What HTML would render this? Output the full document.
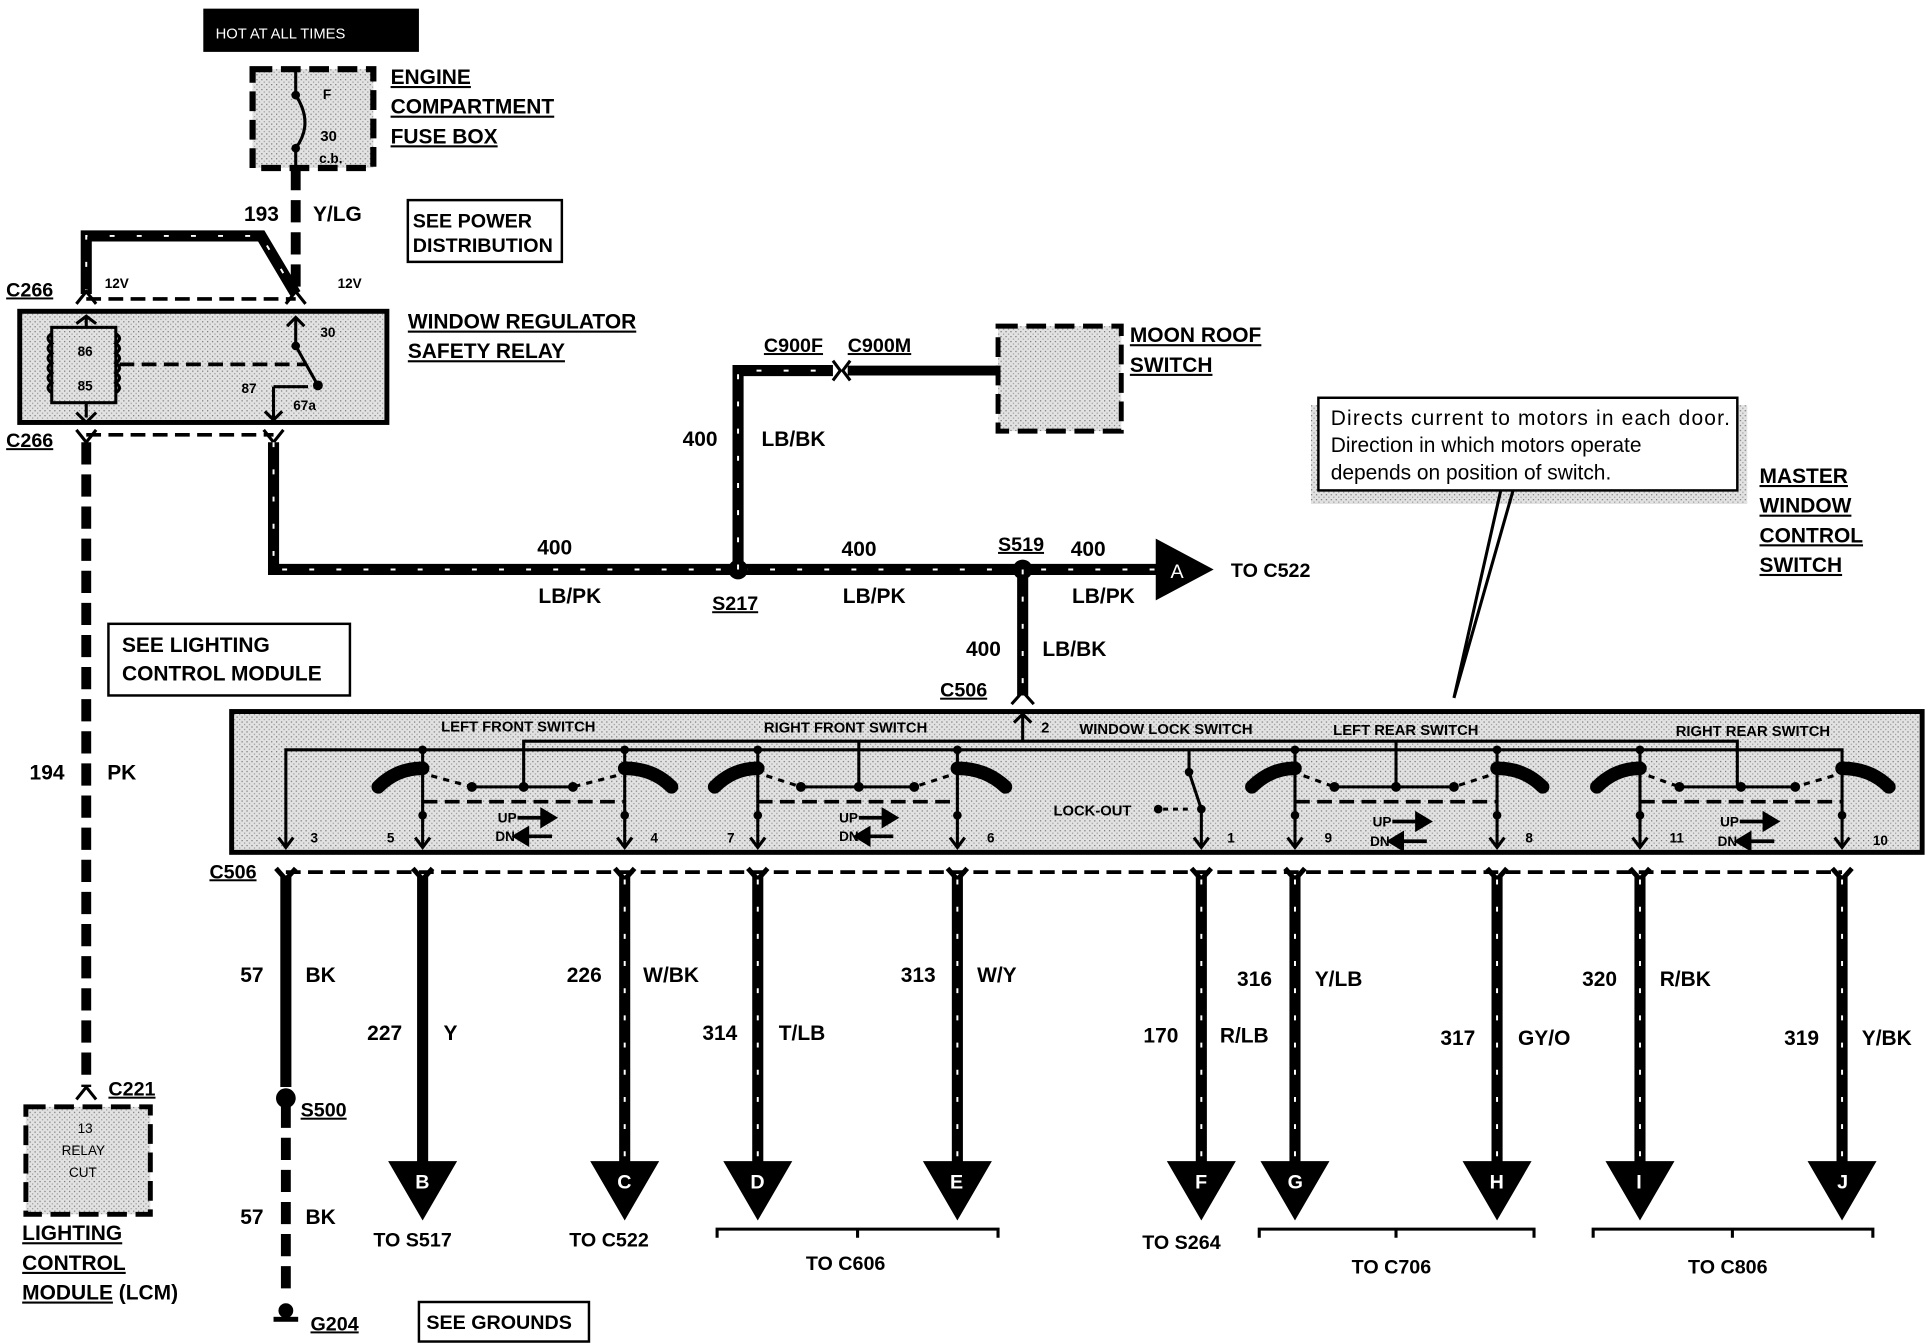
<!DOCTYPE html>
<html><head><meta charset="utf-8"><style>
html,body{margin:0;padding:0;background:#fff}
svg{display:block}
text{font-family:"Liberation Sans",sans-serif;font-weight:bold;fill:#000}
.u{text-decoration:underline}
.w{fill:none;stroke:#000;stroke-width:9}
.wd{fill:none;stroke:#fff;stroke-width:1.6;stroke-dasharray:4 18}
.dw{fill:none;stroke:#000;stroke-width:8;stroke-dasharray:18 8}
.th{fill:none;stroke:#000;stroke-width:2.5}
.bl{fill:none;stroke:#000;stroke-width:11;stroke-linecap:round}
.dl{fill:none;stroke:#000;stroke-width:3;stroke-dasharray:12 6}
</style></head><body>
<svg width="1932" height="1344" viewBox="0 0 1568 1088" preserveAspectRatio="none" xmlns="http://www.w3.org/2000/svg">
<defs>
<pattern id="st" width="4" height="4" patternUnits="userSpaceOnUse"><rect width="4" height="4" fill="#e2e2e2"/><rect width="1" height="1" fill="#777"/><rect x="2" y="2" width="1" height="1" fill="#999"/></pattern>
</defs>
<rect width="1568" height="1088" fill="#fff"/>

<rect x="165" y="7" width="175" height="35" fill="#000"/>
<text x="175" y="31" font-size="12" style="fill:#fff;font-weight:normal">HOT AT ALL TIMES</text>

<rect x="205" y="56" width="98" height="80" fill="url(#st)" stroke="#000" stroke-width="5" stroke-dasharray="16 7"/>
<path d="M240,56 L240,77 Q255,100 240,120 L240,140" class="th" stroke-width="3"/>
<circle cx="240" cy="77" r="3.5"/><circle cx="240" cy="120" r="3.5"/>
<text x="262" y="80" font-size="11">F</text>
<text x="260" y="114" font-size="12">30</text>
<text x="259" y="132" font-size="11">c.b.</text>
<text x="317" y="68" font-size="17" class="u">ENGINE</text>
<text x="317" y="92" font-size="17" class="u">COMPARTMENT</text>
<text x="317" y="116" font-size="17" class="u">FUSE BOX</text>

<path d="M240,136 V240" class="dw" stroke-width="9"/>
<text x="198" y="179" font-size="17">193</text>
<text x="254" y="179" font-size="17">Y/LG</text>
<rect x="331" y="162" width="125" height="50" fill="#fff" stroke="#000" stroke-width="2"/>
<text x="335" y="184" font-size="16">SEE POWER</text>
<text x="335" y="204" font-size="16">DISTRIBUTION</text>

<path d="M70,238 V191 H212 L240,238" class="w"/>
<path d="M70,238 V191 H212 L240,238" class="wd"/>
<path d="M70,242 H240" class="dl" stroke-width="4"/>
<path d="M62,246 L70,236 L78,246 M232,246 L240,236 L248,246" class="th" stroke-width="4"/>
<text x="5" y="240" font-size="16" class="u">C266</text>
<text x="85" y="233" font-size="11">12V</text>
<text x="274" y="233" font-size="11">12V</text>

<rect x="16" y="252" width="298" height="90" fill="url(#st)" stroke="#000" stroke-width="4"/>
<rect x="42" y="265" width="52" height="61" fill="none" stroke="#000" stroke-width="2.5"/>
<path d="M42,270 q-6,4 0,8 q-6,4 0,8 q-6,4 0,8 q-6,4 0,8 q-6,4 0,8 q-6,4 0,8" class="th"/>
<path d="M94,270 q6,4 0,8 q6,4 0,8 q6,4 0,8 q6,4 0,8 q6,4 0,8 q6,4 0,8" class="th"/>
<path d="M70,256 V265 M62,262 L70,256 L78,262 M70,326 V338 M62,334 L70,342 L78,334" class="th" stroke-width="3"/>
<text x="63" y="288" font-size="11">86</text><text x="63" y="316" font-size="11">85</text>
<path d="M97,295 H248" class="dl"/>
<path d="M240,258 V280 L258,312" class="th" stroke-width="3"/>
<path d="M233,264 L240,257 L247,264" class="th" stroke-width="3"/>
<circle cx="240" cy="280" r="3.5"/><circle cx="258" cy="312" r="4"/>
<text x="260" y="273" font-size="11">30</text>
<text x="196" y="318" font-size="11">87</text>
<text x="238" y="332" font-size="11">67a</text>
<path d="M222,313 V340 M215,333 L222,340 L229,333 M222,313 H250" class="th" stroke-width="2.5"/>
<text x="331" y="266" font-size="17" class="u">WINDOW REGULATOR</text>
<text x="331" y="290" font-size="17" class="u">SAFETY RELAY</text>
<text x="5" y="362" font-size="16" class="u">C266</text>
<path d="M62,348 L70,358 L78,348 M214,348 L222,358 L230,348" class="th" stroke-width="4"/>
<path d="M70,352 H222" class="dl" stroke-width="4"/>

<path d="M70,358 V880" class="dw" stroke-width="9"/>
<text x="24" y="631" font-size="17">194</text>
<text x="87" y="631" font-size="17">PK</text>
<rect x="88" y="505" width="196" height="58" fill="#fff" stroke="#000" stroke-width="2"/>
<text x="99" y="528" font-size="17">SEE LIGHTING</text>
<text x="99" y="551" font-size="17">CONTROL MODULE</text>

<path d="M222,358 V461 H940" class="w"/>
<path d="M222,358 V461 H940" class="wd"/>
<path d="M938,436 L985,461 L938,486 Z"/>
<text x="950" y="468" font-size="16" style="fill:#fff;font-weight:normal">A</text>
<text x="999" y="467" font-size="16">TO C522</text>
<circle cx="599" cy="461" r="8"/><circle cx="830" cy="461" r="8"/>
<text x="436" y="449" font-size="17">400</text><text x="437" y="488" font-size="17">LB/PK</text>
<text x="578" y="494" font-size="16" class="u">S217</text>
<text x="683" y="450" font-size="17">400</text><text x="684" y="488" font-size="17">LB/PK</text>
<text x="810" y="446" font-size="16" class="u">S519</text>
<text x="869" y="450" font-size="17">400</text><text x="870" y="488" font-size="17">LB/PK</text>

<path d="M599,461 V300 H676" class="w"/>
<path d="M599,461 V300 H676" class="wd"/>
<path d="M676,292 L682,300 L676,308 M690,292 L684,300 L690,308" class="th" stroke-width="3"/>
<path d="M688,300 H810" stroke="#000" stroke-width="8"/>
<text x="620" y="285" font-size="16" class="u">C900F</text>
<text x="688" y="285" font-size="16" class="u">C900M</text>
<text x="554" y="361" font-size="17">400</text><text x="618" y="361" font-size="17">LB/BK</text>
<rect x="810" y="264" width="100" height="85" fill="url(#st)" stroke="#000" stroke-width="4" stroke-dasharray="16 7"/>
<text x="917" y="277" font-size="17" class="u">MOON ROOF</text>
<text x="917" y="301" font-size="17" class="u">SWITCH</text>

<path d="M830,461 V563" class="w"/><path d="M830,461 V563" class="wd"/>
<path d="M821,570 L830,560 L839,570" class="th" stroke-width="4"/>
<text x="784" y="531" font-size="17">400</text><text x="846" y="531" font-size="17">LB/BK</text>
<text x="763" y="564" font-size="16" class="u">C506</text>

<rect x="1064" y="328" width="354" height="80" fill="url(#st)"/>
<rect x="1070" y="322" width="340" height="75" fill="#fff" stroke="#000" stroke-width="2"/>
<path d="M1180,565 L1228,397 M1180,565 L1218,397" class="th" stroke-width="1.5"/>
<text x="1080" y="344" font-size="17" style="font-weight:normal" textLength="324">Directs current to motors in each door.</text>
<text x="1080" y="366" font-size="17" style="font-weight:normal">Direction in which motors operate</text>
<text x="1080" y="388" font-size="17" style="font-weight:normal">depends on position of switch.</text>
<text x="1428" y="391" font-size="17" class="u">MASTER</text>
<text x="1428" y="415" font-size="17" class="u">WINDOW</text>
<text x="1428" y="439" font-size="17" class="u">CONTROL</text>
<text x="1428" y="463" font-size="17" class="u">SWITCH</text>

<rect x="188" y="576" width="1372" height="114" fill="url(#st)" stroke="#000" stroke-width="4"/>
<text x="358" y="592" font-size="12">LEFT FRONT SWITCH</text>
<text x="620" y="593" font-size="12">RIGHT FRONT SWITCH</text>
<text x="876" y="594" font-size="12">WINDOW LOCK SWITCH</text>
<text x="1082" y="595" font-size="12">LEFT REAR SWITCH</text>
<text x="1360" y="596" font-size="12">RIGHT REAR SWITCH</text>
<text x="845" y="593" font-size="12">2</text>
<path d="M830,578 V600 M823,585 L830,578 L837,585" class="th" stroke-width="3"/>
<path d="M425,636 V600 H1410 V636" class="th"/>
<path d="M232,684 V607 H1495 V684" class="th"/>
<path d="M697,636 V600 M1133,636 V600" class="th"/>
<g class="th">
<path d="M343,607 V684 M507,607 V684 M615,607 V684 M777,607 V684 M1051,607 V684 M1215,607 V684 M1331,607 V684"/>
</g>
<g stroke="#000" stroke-width="2.5" fill="none">
<path d="M226,678 L232,686 L238,678 M337,678 L343,686 L349,678 M501,678 L507,686 L513,678 M609,678 L615,686 L621,678 M771,678 L777,686 L783,678 M969,678 L975,686 L981,678 M1045,678 L1051,686 L1057,678 M1209,678 L1215,686 L1221,678 M1325,678 L1331,686 L1337,678 M1489,678 L1495,686 L1501,678"/>
</g>
<path d="M307,637 Q322,622 343,622 M545,637 Q530,622 507,622 M580,637 Q595,622 615,622 M816,637 Q800,622 777,622 M1016,637 Q1031,622 1051,622 M1252,637 Q1237,622 1215,622 M1296,637 Q1311,622 1331,622 M1533,637 Q1518,622 1495,622" class="bl"/>
<path d="M383,637 H465 M650,637 H742 M1083,637 H1180 M1363,637 H1457" class="th"/>
<path d="M350,628 L383,637 M500,628 L465,637 M622,628 L650,637 M770,628 L742,637 M1058,628 L1083,637 M1208,628 L1180,637 M1338,628 L1363,637 M1488,628 L1457,637" class="th" stroke-dasharray="5 5"/>
<g>
<circle cx="383" cy="637" r="4"/><circle cx="425" cy="637" r="4"/><circle cx="465" cy="637" r="4"/>
<circle cx="650" cy="637" r="4"/><circle cx="697" cy="637" r="4"/><circle cx="742" cy="637" r="4"/>
<circle cx="1083" cy="637" r="4"/><circle cx="1133" cy="637" r="4"/><circle cx="1180" cy="637" r="4"/>
<circle cx="1363" cy="637" r="4"/><circle cx="1413" cy="637" r="4"/><circle cx="1457" cy="637" r="4"/>
<circle cx="343" cy="607" r="3.5"/><circle cx="507" cy="607" r="3.5"/><circle cx="615" cy="607" r="3.5"/><circle cx="777" cy="607" r="3.5"/>
<circle cx="1051" cy="607" r="3.5"/><circle cx="1215" cy="607" r="3.5"/><circle cx="1331" cy="607" r="3.5"/>
<circle cx="343" cy="660" r="3.5"/><circle cx="507" cy="660" r="3.5"/><circle cx="615" cy="660" r="3.5"/><circle cx="777" cy="660" r="3.5"/>
<circle cx="1051" cy="660" r="3.5"/><circle cx="1215" cy="660" r="3.5"/><circle cx="1331" cy="660" r="3.5"/><circle cx="1495" cy="660" r="3.5"/>
</g>
<path d="M343,649 H507 M615,649 H777 M1051,649 H1215 M1331,649 H1495" class="dl" stroke-width="2.5"/>
<g font-size="11">
<text x="404" y="666">UP</text><text x="402" y="681">DN</text>
<text x="681" y="666">UP</text><text x="681" y="681">DN</text>
<text x="1114" y="669">UP</text><text x="1112" y="685">DN</text>
<text x="1396" y="669">UP</text><text x="1394" y="685">DN</text>
</g>
<g stroke="#000" stroke-width="3" fill="#000">
<path d="M420,662 H440"/><path d="M440,656 L450,662 L440,668Z"/><path d="M428,677 H448"/><path d="M428,671 L418,677 L428,683Z"/>
<path d="M697,662 H717"/><path d="M717,656 L727,662 L717,668Z"/><path d="M705,677 H725"/><path d="M705,671 L695,677 L705,683Z"/>
<path d="M1130,665 H1150"/><path d="M1150,659 L1160,665 L1150,671Z"/><path d="M1138,681 H1158"/><path d="M1138,675 L1128,681 L1138,687Z"/>
<path d="M1412,665 H1432"/><path d="M1432,659 L1442,665 L1432,671Z"/><path d="M1420,681 H1440"/><path d="M1420,675 L1410,681 L1420,687Z"/>
</g>
<path d="M965,607 V625 L975,655 V684" class="th"/>
<circle cx="965" cy="625" r="3.5"/><circle cx="975" cy="655" r="3.5"/><circle cx="940" cy="655" r="3.5"/>
<path d="M944,655 H968" class="th" stroke-dasharray="4 4"/>
<text x="855" y="660" font-size="12">LOCK-OUT</text>
<g font-size="11">
<text x="252" y="682">3</text><text x="314" y="682">5</text><text x="528" y="682">4</text><text x="590" y="682">7</text>
<text x="801" y="682">6</text><text x="996" y="682">1</text><text x="1075" y="682">9</text><text x="1238" y="682">8</text>
<text x="1355" y="682">11</text><text x="1520" y="684">10</text>
</g>

<text x="170" y="711" font-size="16" class="u">C506</text>
<path d="M232,706 H1495" class="dl" stroke-width="3"/>
<g stroke="#000" stroke-width="4" fill="none">
<path d="M224,703 L232,712 L240,703 M335,703 L343,712 L351,703 M499,703 L507,712 L515,703 M607,703 L615,712 L623,703 M769,703 L777,712 L785,703 M967,703 L975,712 L983,703 M1043,703 L1051,712 L1059,703 M1207,703 L1215,712 L1223,703 M1323,703 L1331,712 L1339,703 M1487,703 L1495,712 L1503,703"/>
</g>
<path d="M232,710 V880" stroke="#000" stroke-width="9"/>
<path d="M232,895 V1050" class="dw" stroke-width="9"/>
<circle cx="232" cy="889" r="8"/>
<path d="M343,710 V945" stroke="#000" stroke-width="9"/>
<g class="w"><path d="M507,710 V945"/><path d="M615,710 V945"/><path d="M777,710 V945"/><path d="M975,710 V945"/><path d="M1051,710 V945"/><path d="M1215,710 V945"/><path d="M1331,710 V945"/><path d="M1495,710 V945"/></g>
<g class="wd"><path d="M507,712 V945"/><path d="M615,712 V945"/><path d="M777,712 V945"/><path d="M975,712 V945"/><path d="M1051,712 V945"/><path d="M1215,712 V945"/><path d="M1331,712 V945"/><path d="M1495,712 V945"/></g>
<g>
<path d="M315,940 H371 L343,988Z"/><path d="M479,940 H535 L507,988Z"/><path d="M587,940 H643 L615,988Z"/><path d="M749,940 H805 L777,988Z"/>
<path d="M947,940 H1003 L975,988Z"/><path d="M1023,940 H1079 L1051,988Z"/><path d="M1187,940 H1243 L1215,988Z"/><path d="M1303,940 H1359 L1331,988Z"/><path d="M1467,940 H1523 L1495,988Z"/>
</g>
<g font-size="16" style="font-weight:normal">
<text x="337" y="962" style="fill:#fff">B</text><text x="501" y="962" style="fill:#fff">C</text><text x="609" y="962" style="fill:#fff">D</text><text x="771" y="962" style="fill:#fff">E</text>
<text x="970" y="962" style="fill:#fff">F</text><text x="1045" y="962" style="fill:#fff">G</text><text x="1209" y="962" style="fill:#fff">H</text><text x="1328" y="962" style="fill:#fff">I</text><text x="1491" y="962" style="fill:#fff">J</text>
</g>
<g font-size="17">
<text x="195" y="795">57</text><text x="248" y="795">BK</text>
<text x="298" y="842">227</text><text x="360" y="842">Y</text>
<text x="460" y="795">226</text><text x="522" y="795">W/BK</text>
<text x="570" y="842">314</text><text x="632" y="842">T/LB</text>
<text x="731" y="795">313</text><text x="793" y="795">W/Y</text>
<text x="928" y="844">170</text><text x="990" y="844">R/LB</text>
<text x="1004" y="798">316</text><text x="1067" y="798">Y/LB</text>
<text x="1169" y="846">317</text><text x="1232" y="846">GY/O</text>
<text x="1284" y="798">320</text><text x="1347" y="798">R/BK</text>
<text x="1448" y="846">319</text><text x="1511" y="846">Y/BK</text>
<text x="195" y="991">57</text><text x="248" y="991">BK</text>
</g>
<text x="244" y="904" font-size="16" class="u">S500</text>
<g font-size="16">
<text x="303" y="1009">TO S517</text><text x="462" y="1009">TO C522</text>
<text x="654" y="1028">TO C606</text><text x="927" y="1011">TO S264</text>
<text x="1097" y="1031">TO C706</text><text x="1370" y="1031">TO C806</text>
</g>
<path d="M582,1002 V995 H810 V1002 M696,995 V1002 M1022,1002 V995 H1245 V1002 M1133,995 V1002 M1293,1002 V995 H1520 V1002 M1406,995 V1002" class="th" stroke-width="2"/>
<circle cx="232" cy="1061" r="6"/>
<rect x="222" y="1066" width="20" height="4"/>
<text x="252" y="1077" font-size="16" class="u">G204</text>
<rect x="340" y="1054" width="138" height="32" fill="#fff" stroke="#000" stroke-width="2"/>
<text x="346" y="1076" font-size="16">SEE GROUNDS</text>
<path d="M62,890 L70,880 L78,890" class="th" stroke-width="4"/>
<text x="88" y="887" font-size="16" class="u">C221</text>
<rect x="21" y="896" width="101" height="87" fill="url(#st)" stroke="#000" stroke-width="4" stroke-dasharray="16 7"/>
<text x="63" y="917" font-size="11" style="font-weight:normal">13</text>
<text x="50" y="935" font-size="11" style="font-weight:normal">RELAY</text>
<text x="56" y="953" font-size="11" style="font-weight:normal">CUT</text>
<text x="18" y="1004" font-size="17" class="u">LIGHTING</text>
<text x="18" y="1028" font-size="17" class="u">CONTROL</text>
<text x="18" y="1052" font-size="17"><tspan class="u">MODULE</tspan> (LCM)</text>
</svg>
</body></html>
